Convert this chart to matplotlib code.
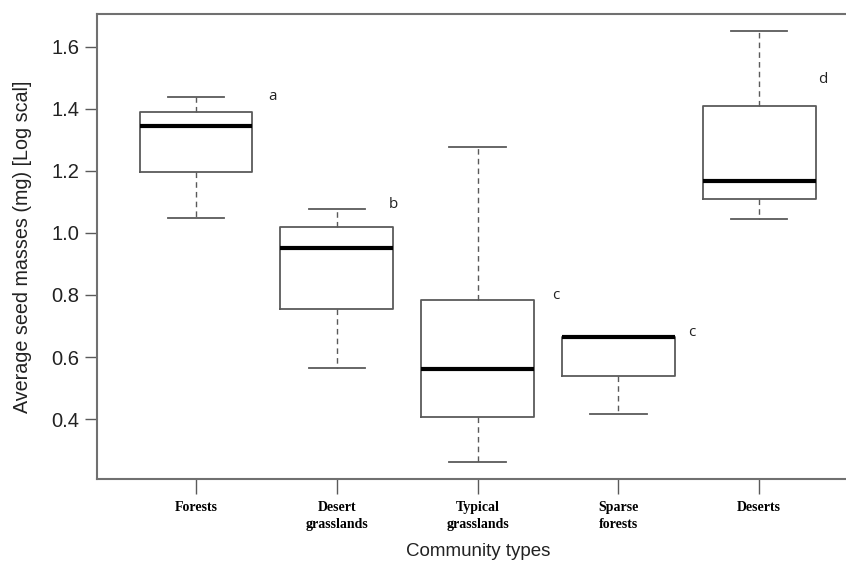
import matplotlib.pyplot as plt

# community types and box statistics
groups = ['Forests', 'Desert\ngrasslands', 'Typical\ngrasslands', 'Sparse\nforests', 'Deserts']
whis_lo = [1.047, 0.565, 0.262, 0.415, 1.046]
q1 = [1.196, 0.754, 0.406, 0.539, 1.108]
medians = [1.343, 0.951, 0.561, 0.663, 1.168]
q3 = [1.389, 1.019, 0.784, 0.665, 1.409]
whis_hi = [1.438, 1.076, 1.277, 0.668, 1.650]
letters = ['a', 'b', 'c', 'c', 'd']
letter_y = [1.441, 1.093, 0.797, 0.680, 1.493]

stats = []
for i in range(len(groups)):
    stats.append({'whislo': whis_lo[i], 'q1': q1[i], 'med': medians[i],
                  'q3': q3[i], 'whishi': whis_hi[i], 'fliers': []})

fig = plt.figure(figsize=(8.46, 5.70), dpi=100)
ax = fig.add_axes([0.115, 0.160, 0.899, 0.8154])

gray = '#5a5a5a'
pos = list(range(1, len(groups) + 1))
ax.bxp(stats, positions=pos, widths=0.8, showfliers=False,
       boxprops=dict(color=gray, linewidth=1.3),
       medianprops=dict(color='black', linewidth=3.0, solid_capstyle='butt'),
       whiskerprops=dict(color=gray, linewidth=1.0, linestyle=(0, (4, 3))),
       capprops=dict(color=gray, linewidth=1.3),
       capwidths=0.4)

for i in range(len(groups)):
    ax.text(pos[i] + [0.547, 0.40, 0.557, 0.52, 0.45][i], letter_y[i], letters[i],
            ha='center', va='center', fontsize=11, family='Open Sans', color='#222222')

ax.set_xlim(0.3, 5.7)
ax.set_ylim(0.2075, 1.7055)
ax.set_yticks([0.4, 0.6, 0.8, 1.0, 1.2, 1.4, 1.6])
ax.set_yticklabels(['0.4', '0.6', '0.8', '1.0', '1.2', '1.4', '1.6'],
                   fontsize=14.5, family='Liberation Sans', color='#222222')
ax.set_xticks(pos)
ax.set_xticklabels(groups, fontsize=10, family='Liberation Serif', fontweight='bold',
                   linespacing=1.35)
ax.tick_params(axis='y', length=9, width=1.0, color=gray, pad=4)
ax.tick_params(axis='x', length=11, width=1.0, color=gray, pad=5)
for s in ax.spines.values():
    s.set_color('#707070')
    s.set_linewidth(1.5)

ax.set_ylabel('Average seed masses (mg) [Log scal]', fontsize=14.2,
              family='Liberation Sans', color='#222222', labelpad=14)
fig.text(478 / 846, 1 - 551 / 570, 'Community types', fontsize=13.5,
         family='Liberation Sans', color='#222222', ha='center', va='center')

fig.savefig('out.png', dpi=100)
